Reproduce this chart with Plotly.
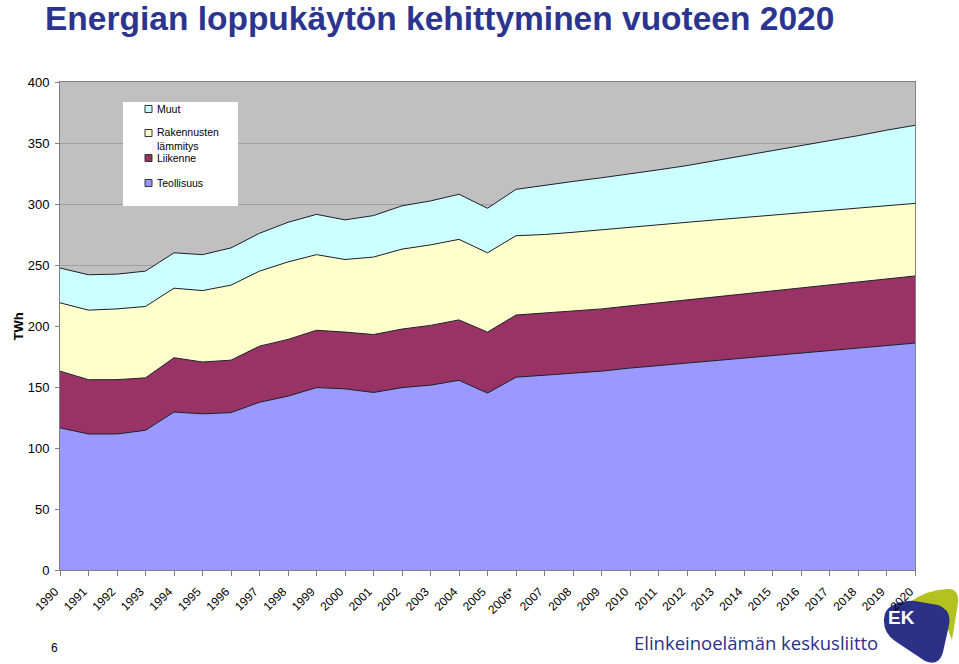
import plotly.graph_objects as go

years = ["1990", "1991", "1992", "1993", "1994", "1995", "1996", "1997", "1998", "1999",
         "2000", "2001", "2002", "2003", "2004", "2005", "2006*", "2007", "2008", "2009",
         "2010", "2011", "2012", "2013", "2014", "2015", "2016", "2017", "2018", "2019", "2020"]

teollisuus = [116.5, 111.5, 111.5, 114.5, 129.5, 128, 129, 137.5, 142.5, 149.5,
              148.5, 145.5, 149.5, 151.5, 155.5, 145, 158, 159.5, 161, 163,
              165.5, 167.5, 169.5, 171.5, 173.5, 175.5, 177.5, 179.5, 181.5, 183.5, 186]
liikenne = [46.5, 44.5, 44.5, 43, 44.5, 42.5, 43, 46, 46.5, 47,
            46.5, 47.5, 48, 49, 49.5, 50, 51, 51, 51, 51,
            51, 51.5, 52, 52.5, 53, 53.5, 54, 54.5, 55, 55, 55]
rakennusten = [56, 57, 58, 58.5, 57, 58.5, 61.5, 61.5, 63.5, 62,
               59.5, 63.5, 65.5, 66, 66, 65, 65, 64.5, 64.8, 65,
               64.5, 64, 63.5, 63, 62.5, 62, 61.5, 61, 60.5, 60.5, 59.5]
muut = [28.5, 29, 28.5, 29, 29, 29.5, 30.5, 31, 32.5, 33,
        32.5, 34, 35.5, 36, 37, 36.5, 38, 40.5, 41.7, 42.5,
        43.5, 45, 46.5, 48.5, 50.5, 52.5, 54.5, 56.5, 59, 61.5, 64]

series_names = ["Teollisuus", "Liikenne", "Rakennusten<br>lämmitys", "Muut"]
series_values = [teollisuus, liikenne, rakennusten, muut]
series_colors = ["#9999ff", "#993366", "#ffffcc", "#ccffff"]

y_ticks = [0, 50, 100, 150, 200, 250, 300, 350, 400]

title_text = "Energian loppukäytön kehittyminen vuoteen 2020"
y_title = "TWh"
page_no = "6"
org_name = "Elinkeinoelämän keskusliitto"

FONT = "Liberation Sans, Arial, sans-serif"
W, H = 959, 664
L, R, T, B = 60, 915, 82, 570


def px(x):
    return (x - L) / (R - L)


def py(y):
    return (B - y) / (B - T)


fig = go.Figure()
for name, vals, col in zip(series_names, series_values, series_colors):
    fig.add_trace(go.Scatter(
        x=years, y=vals, name=name, mode="lines", stackgroup="one",
        fillcolor=col, line=dict(color="#1e1e2a", width=1),
        showlegend=False, hoverinfo="x+y+name",
    ))

shapes = []
annotations = []

# legend box
shapes.append(dict(type="rect", xref="paper", yref="paper",
                   x0=px(123), x1=px(238), y0=py(206), y1=py(102),
                   fillcolor="white", line=dict(width=0), layer="above"))
legend_order = [3, 2, 1, 0]
legend_pos = [(109, 109), (133, 139), (158, 158), (183, 183)]
for idx, (my, ty) in zip(legend_order, legend_pos):
    shapes.append(dict(type="rect", xref="paper", yref="paper",
                       x0=px(145), x1=px(152), y0=py(my + 3.5), y1=py(my - 3.5),
                       fillcolor=series_colors[idx], line=dict(color="#333333", width=1),
                       layer="above"))
    annotations.append(dict(xref="paper", yref="paper", x=px(155), y=py(ty),
                            xanchor="left", yanchor="middle", align="left",
                            text=series_names[idx], showarrow=False,
                            font=dict(family=FONT, size=10.5, color="black")))

# y-axis title
annotations.append(dict(xref="paper", yref="paper", x=px(8), y=py(327),
                        text="<b>" + y_title + "</b>", textangle=-90, showarrow=False,
                        font=dict(family=FONT, size=13, color="black")))
# page number
annotations.append(dict(xref="paper", yref="paper", x=px(49), y=py(657),
                        text=page_no, showarrow=False,
                        font=dict(family=FONT, size=12, color="black")))
# organisation name
annotations.append(dict(xref="paper", yref="paper", x=px(632), y=py(642),
                        xanchor="left", yanchor="middle",
                        text=org_name, showarrow=False,
                        font=dict(family="Open Sans, Liberation Sans, sans-serif", size=18.5, color="#2b3186")))

# EK logo (drawn below so the 2020 tick label stays on top)
shapes.append(dict(type="path", xref="paper", yref="paper",
                   path=(f"M{px(908):.5f},{py(603):.5f}"
                         f"Q{px(930):.5f},{py(588):.5f} {px(950):.5f},{py(589):.5f}"
                         f"Q{px(959):.5f},{py(590):.5f} {px(958):.5f},{py(603):.5f}"
                         f"L{px(952):.5f},{py(640):.5f}"
                         f"Q{px(940):.5f},{py(604):.5f} {px(908):.5f},{py(603):.5f}Z"),
                   fillcolor="#b3c21e", line=dict(width=0), layer="below"))
shapes.append(dict(type="path", xref="paper", yref="paper",
                   path=(f"M{px(890):.5f},{py(607):.5f}"
                         f"Q{px(900):.5f},{py(600):.5f} {px(915):.5f},{py(601):.5f}"
                         f"L{px(938):.5f},{py(605):.5f}"
                         f"Q{px(952):.5f},{py(610):.5f} {px(949):.5f},{py(625):.5f}"
                         f"L{px(943):.5f},{py(652):.5f}"
                         f"Q{px(939):.5f},{py(667):.5f} {px(925):.5f},{py(661):.5f}"
                         f"L{px(895):.5f},{py(641):.5f}"
                         f"Q{px(883):.5f},{py(633):.5f} {px(884):.5f},{py(619):.5f}"
                         f"Q{px(885):.5f},{py(610):.5f} {px(890):.5f},{py(607):.5f}Z"),
                   fillcolor="#2b3186", line=dict(width=0), layer="below"))
annotations.append(dict(xref="paper", yref="paper", x=px(917), y=py(630),
                        text="<b>EK</b>", showarrow=False,
                        font=dict(family=FONT, size=19, color="white")))

fig.update_layout(
    width=W, height=H,
    margin=dict(l=L, r=W - R, t=T, b=H - B),
    paper_bgcolor="white", plot_bgcolor="#c0c0c0",
    title=dict(text="<b>" + title_text + "</b>", xref="container", yref="container",
               x=45 / W, xanchor="left", y=1 - 18.5 / H, yanchor="middle",
               font=dict(family=FONT, size=33.5, color="#2b3590")),
    xaxis=dict(type="category", range=[0, len(years) - 1], tickangle=-45,
               tickfont=dict(family=FONT, size=12, color="black"),
               ticks="outside", ticklen=5, tickcolor="#808080",
               ticklabelstandoff=4, ticklabelshift=-5,
               showgrid=False, showline=True, linecolor="#808080", mirror=True,
               zeroline=False),
    yaxis=dict(range=[0, 400], tickvals=y_ticks,
               tickfont=dict(family=FONT, size=13, color="black"),
               ticks="outside", ticklen=4, tickcolor="#808080",
               showgrid=True, gridcolor="#a0a0a0", gridwidth=1,
               showline=True, linecolor="#808080", mirror=True, zeroline=False,
               ticklabelstandoff=3),
    shapes=shapes, annotations=annotations,
    showlegend=False,
)

fig.write_html("out.html", config={"displayModeBar": False},
               post_script="document.body.style.margin='0';document.body.style.overflow='hidden';")
